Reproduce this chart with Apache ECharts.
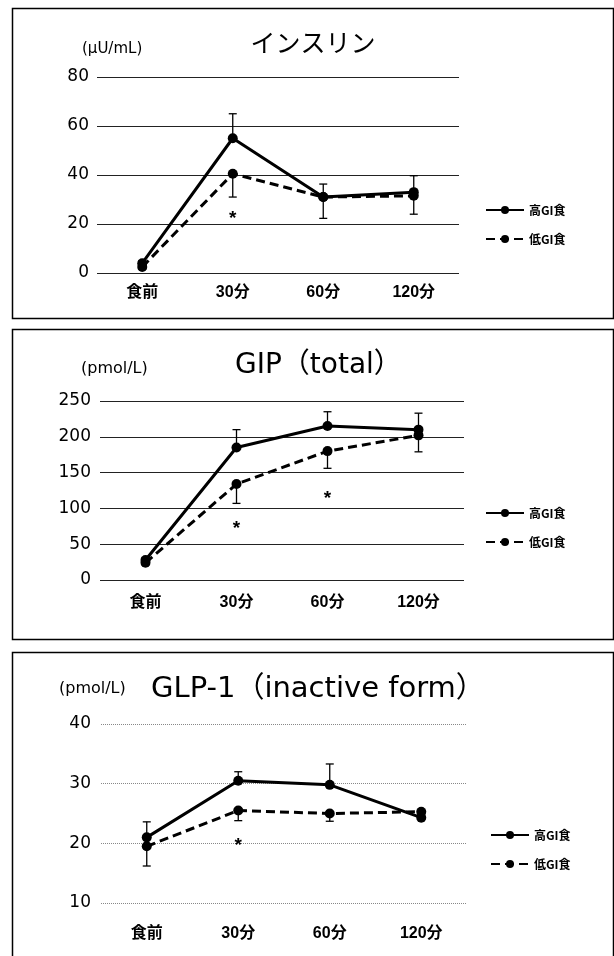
<!DOCTYPE html>
<html><head><meta charset="utf-8">
<script src="https://cdn.jsdelivr.net/npm/echarts@6/dist/echarts.min.js"></script>
<style>html,body{margin:0;padding:0;background:#fff}#c{width:614px;height:956px}</style>
</head><body><div id="c"></div>
<script>
const categories = ['食前', '30分', '60分', '120分'];
const seriesNames = ['高GI食', '低GI食'];

const insulinHigh = [4, 55, 31, 33];
const insulinLow = [2.5, 40.5, 31, 31.5];
const insulinHighSD = [1, 10, 5.3, 6.7];
const insulinLowSD = [1, 9.5, 8.7, 7.5];
const insulinStars = [[1, 23]];
const insulinTicks = { min: 0, max: 80, interval: 20 };

const gipHigh = [28, 185, 215, 210];
const gipLow = [24, 134, 180, 202];
const gipHighSD = [3, 25, 20, 23];
const gipLowSD = [3, 27, 24, 23];
const gipStars = [[1, 74], [2, 116]];
const gipTicks = { min: 0, max: 250, interval: 50 };

const glpHigh = [21, 30.5, 29.8, 24.3];
const glpLow = [19.5, 25.5, 25, 25.3];
const glpHighSD = [2.6, 1.5, 3.5, 0.4];
const glpLowSD = [3.3, 1.7, 1.3, 0.4];
const glpStars = [[1, 19.9]];
const glpTicks = { min: 10, max: 40, interval: 10 };

const FONT_LATIN = "'DejaVu Sans', 'Noto Sans CJK JP', sans-serif";
const FONT_CAT = "'Liberation Sans', Arial, 'Noto Sans CJK JP', sans-serif";

const panels = [
  { grid: { left: 97, top: 77, width: 362, height: 196 }, ticks: insulinTicks,
    high: insulinHigh, low: insulinLow, hsd: insulinHighSD, lsd: insulinLowSD, stars: insulinStars,
    split: { color: '#222', type: 'solid', width: 1 }, labelMargin: 12, yMargin: 8,
    legendTop: 199, legendLeft: 480 },
  { grid: { left: 100, top: 401, width: 364, height: 179 }, ticks: gipTicks,
    high: gipHigh, low: gipLow, hsd: gipHighSD, lsd: gipLowSD, stars: gipStars,
    split: { color: '#222', type: 'solid', width: 1 }, labelMargin: 15, yMargin: 9,
    legendTop: 502, legendLeft: 480 },
  { grid: { left: 101, top: 724, width: 366, height: 179 }, ticks: glpTicks,
    high: glpHigh, low: glpLow, hsd: glpHighSD, lsd: glpLowSD, stars: glpStars,
    split: { color: '#888', type: 'dotted', width: 1 }, labelMargin: 23, yMargin: 10,
    legendTop: 824, legendLeft: 485 }
];

const grids = [], xAxes = [], yAxes = [], series = [], legends = [];
panels.forEach((p, i) => {
  grids.push(p.grid);
  xAxes.push({
    type: 'category', gridIndex: i, data: categories, boundaryGap: true,
    axisLine: { show: false }, axisTick: { show: false },
    axisLabel: { margin: p.labelMargin, color: '#000', fontSize: 16, fontWeight: 'bold', fontFamily: FONT_CAT }
  });
  yAxes.push({
    type: 'value', gridIndex: i, min: p.ticks.min, max: p.ticks.max, interval: p.ticks.interval,
    axisLine: { show: false }, axisTick: { show: false },
    axisLabel: { margin: p.yMargin, color: '#000', fontSize: 17, fontFamily: FONT_LATIN },
    splitLine: { show: true, lineStyle: p.split }
  });
  const errData = (vals, sds, dir) => vals.map((v, k) => [k, v, v + dir * sds[k]]);
  const errSeries = (vals, sds, dir) => ({
    type: 'custom', xAxisIndex: i, yAxisIndex: i, z: 3, silent: true,
    data: errData(vals, sds, dir),
    renderItem: (params, api) => {
      const a = api.coord([api.value(0), api.value(1)]);
      const b = api.coord([api.value(0), api.value(2)]);
      const w = 4;
      return { type: 'group', children: [
        { type: 'line', shape: { x1: a[0], y1: a[1], x2: b[0], y2: b[1] }, style: { stroke: '#000', lineWidth: 1.3 } },
        { type: 'line', shape: { x1: b[0] - w, y1: b[1], x2: b[0] + w, y2: b[1] }, style: { stroke: '#000', lineWidth: 1.3 } }
      ]};
    }
  });
  series.push(errSeries(p.high, p.hsd, 1));
  series.push(errSeries(p.low, p.lsd, -1));
  series.push({
    name: seriesNames[0], type: 'line', xAxisIndex: i, yAxisIndex: i, data: p.high, z: 5,
    symbol: 'circle', symbolSize: 10, itemStyle: { color: '#000' },
    lineStyle: { color: '#000', width: 3, type: 'solid' }, animation: false
  });
  series.push({
    name: seriesNames[1], type: 'line', xAxisIndex: i, yAxisIndex: i, data: p.low, z: 4,
    symbol: 'circle', symbolSize: 10, itemStyle: { color: '#000' },
    lineStyle: { color: '#000', width: 3, type: [9, 5] }, animation: false
  });
  series.push({
    type: 'custom', xAxisIndex: i, yAxisIndex: i, z: 6, silent: true, data: p.stars,
    renderItem: (params, api) => {
      const c = api.coord([api.value(0), api.value(1)]);
      return { type: 'text', style: { text: '*', x: c[0], y: c[1] + 2, align: 'center', verticalAlign: 'middle',
        font: "bold 19px 'Liberation Sans', Arial", fill: '#000' } };
    }
  });
  legends.push({
    data: seriesNames, orient: 'vertical', left: p.legendLeft, top: p.legendTop,
    itemWidth: 38, itemHeight: 10, itemGap: 17,
    textStyle: { color: '#000', fontSize: 12, fontWeight: 'bold', fontFamily: "'Noto Sans CJK JP', sans-serif" },
    selectedMode: false
  });
});

const titles = [
  { text: 'インスリン', left: 313, top: 30, textAlign: 'center', padding: 0,
    textStyle: { fontSize: 25, fontWeight: 'normal', color: '#000', fontFamily: "'Noto Sans CJK JP', sans-serif" } },
  { text: '(µU/mL)', left: 82, top: 42, padding: 0,
    textStyle: { fontSize: 15, fontWeight: 'normal', color: '#000', fontFamily: FONT_LATIN } },
  { text: 'GIP（total）', left: 235, top: 352, padding: 0,
    textStyle: { fontSize: 28, fontWeight: 'normal', color: '#000', fontFamily: FONT_LATIN } },
  { text: '(pmol/L)', left: 81, top: 361, padding: 0,
    textStyle: { fontSize: 16, fontWeight: 'normal', color: '#000', fontFamily: FONT_LATIN } },
  { text: '(pmol/L)', left: 59, top: 681, padding: 0,
    textStyle: { fontSize: 16, fontWeight: 'normal', color: '#000', fontFamily: FONT_LATIN } },
  { text: 'GLP-1（inactive form）', left: 151, top: 675, padding: 0,
    textStyle: { fontSize: 29, fontWeight: 'normal', color: '#000', fontFamily: FONT_LATIN } }
];

const borders = [[12.5, 8.5, 601, 310], [12.5, 329.5, 601, 310], [12.5, 652.5, 601, 320]].map(r => ({
  type: 'rect', shape: { x: r[0], y: r[1], width: r[2], height: r[3] },
  style: { fill: 'none', stroke: '#000', lineWidth: 1.5 }, silent: true
}));

const chart = echarts.init(document.getElementById('c'));
chart.setOption({
  animation: false,
  backgroundColor: '#fff',
  title: titles,
  legend: legends,
  grid: grids,
  xAxis: xAxes,
  yAxis: yAxes,
  series: series,
  graphic: borders
});
</script></body></html>
